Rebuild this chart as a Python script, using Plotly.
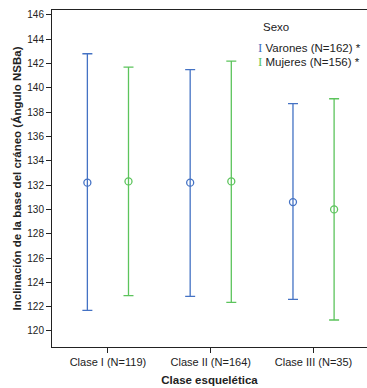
import plotly.graph_objects as go

categories = ["Clase I (N=119)", "Clase II (N=164)", "Clase III (N=35)"]
varones_mean = [132.2, 132.2, 130.6]
varones_upper = [142.8, 141.5, 138.7]
varones_lower = [121.7, 122.85, 122.6]
mujeres_mean = [132.3, 132.3, 130.0]
mujeres_upper = [141.7, 142.2, 139.1]
mujeres_lower = [122.9, 122.35, 120.9]
y_ticks = list(range(120, 147, 2))

BLUE = "#4472C4"
GREEN = "#5CC45C"
offset = 0.2

xpos = list(range(len(categories)))

def trace(means, up, lo, color, shift):
    return go.Scatter(
        x=[p + shift for p in xpos], y=means, mode="markers",
        marker=dict(symbol="circle-open", size=7, color=color, line=dict(width=1.3)),
        error_y=dict(type="data", symmetric=False,
                     array=[u - m for u, m in zip(up, means)],
                     arrayminus=[m - l for m, l in zip(means, lo)],
                     color=color, thickness=1.3, width=5),
        showlegend=False, hoverinfo="skip")

fig = go.Figure()
fig.add_trace(trace(varones_mean, varones_upper, varones_lower, BLUE, -offset))
fig.add_trace(trace(mujeres_mean, mujeres_upper, mujeres_lower, GREEN, offset))

font = "Liberation Sans, Arial, sans-serif"
L, R, T, B = 52, 0, 10, 41
W, H = 367 - L - R, 388 - T - B

def px(xp, yp):
    return (xp - L) / W, (388 - B - yp) / H

def sym(color):
    return (f'<span style="color:{color};font-family:Liberation Serif;'
            f'font-size:13px">I</span>')

sx, sy = px(276, 27)
l1x, l1y = px(256, 47)
l2x, l2y = px(256, 61)

fig.update_layout(
    width=367, height=388,
    margin=dict(l=L, r=R, t=T, b=B),
    paper_bgcolor="white", plot_bgcolor="white",
    font=dict(family=font, color="#222"),
    xaxis=dict(range=[-0.544, 2.52], tickvals=xpos, ticktext=categories,
               automargin=False,
               showgrid=False, zeroline=False, showline=True, linecolor="#222",
               mirror=True, ticks="outside", ticklen=5, tickcolor="#222",
               tickfont=dict(size=11, family=font),
               title=dict(text="<b>Clase esquelética</b>", font=dict(size=11.5), standoff=8)),
    yaxis=dict(range=[118.68, 146.4], tickvals=y_ticks, automargin=False,
               showgrid=False, zeroline=False, showline=True, linecolor="#222",
               ticks="outside", ticklen=5, tickcolor="#222",
               tickfont=dict(size=10, family=font),
               title=dict(text="<b>Inclinación de la base del cráneo (Ángulo NSBa)</b>",
                          font=dict(size=11.5), standoff=3)),
    annotations=[
        dict(x=sx, y=sy, xref="paper", yref="paper", text="Sexo", showarrow=False,
             xanchor="center", yanchor="middle", font=dict(size=11.5)),
        dict(text=sym(BLUE) + " Varones (N=162) *",
             xref="paper", yref="paper", x=l1x, y=l1y, showarrow=False,
             xanchor="left", yanchor="middle", font=dict(size=11.5)),
        dict(text=sym(GREEN) + " Mujeres (N=156) *",
             xref="paper", yref="paper", x=l2x, y=l2y, showarrow=False,
             xanchor="left", yanchor="middle", font=dict(size=11.5)),
    ],
)

fig.write_html("out.html", config={"displayModeBar": False},
               post_script="document.body.style.margin='0';")
